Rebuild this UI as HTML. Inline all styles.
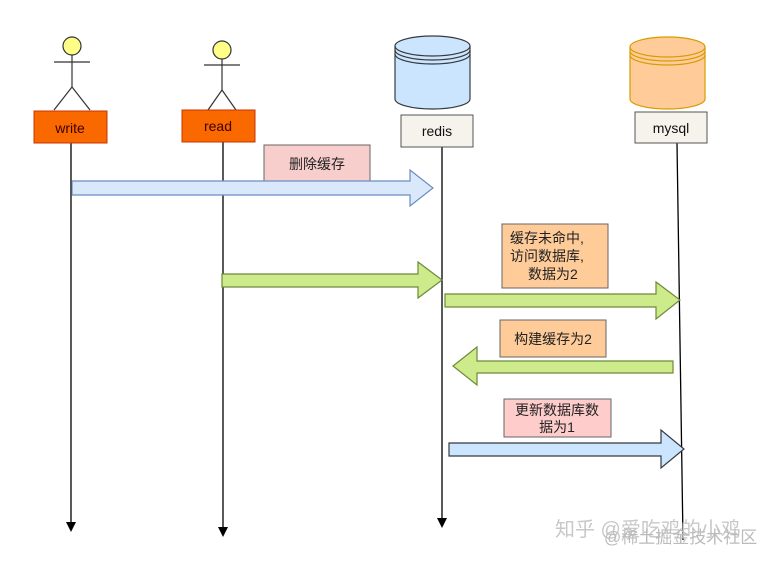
<!DOCTYPE html>
<html><head><meta charset="utf-8"><style>
html,body{margin:0;padding:0;background:#fff;}
svg{display:block;font-family:"Liberation Sans","Noto Sans CJK SC",sans-serif;}
</style></head><body>
<svg width="766" height="562" viewBox="0 0 766 562" xmlns="http://www.w3.org/2000/svg">
<rect width="766" height="562" fill="#fff"/>
<g stroke="#000" stroke-width="1.3" fill="none">
<line x1="71" y1="143" x2="71" y2="524"/>
<line x1="223" y1="142" x2="223" y2="529"/>
<line x1="442" y1="147" x2="442" y2="520"/>
<line x1="677" y1="143" x2="683" y2="540"/>
</g>
<path d="M66,522 L76,522 L71,532 z" fill="#000"/>
<path d="M218,527 L228,527 L223,537 z" fill="#000"/>
<path d="M437,518 L447,518 L442,528 z" fill="#000"/>
<g stroke="#333" stroke-width="1.2" fill="none">
<circle cx="72" cy="46" r="9" fill="#ffff88"/>
<line x1="72" y1="55" x2="72" y2="87"/><line x1="54" y1="62" x2="90" y2="62"/>
<line x1="72" y1="87" x2="54" y2="110"/><line x1="72" y1="87" x2="90" y2="110"/>
<circle cx="222" cy="50" r="9" fill="#ffff88"/>
<line x1="222" y1="59" x2="222" y2="90"/><line x1="204" y1="65" x2="240" y2="65"/>
<line x1="222" y1="90" x2="208" y2="110"/><line x1="222" y1="90" x2="236" y2="110"/>
</g>
<rect x="34" y="111" width="73" height="32" fill="#fa6800" stroke="#c73500"/>
<text x="70" y="133" font-size="14" text-anchor="middle" fill="#3a0000">write</text>
<rect x="182" y="110" width="73" height="32" fill="#fa6800" stroke="#c73500"/>
<text x="218" y="131" font-size="14" text-anchor="middle" fill="#3a0000">read</text>
<g stroke="#36393d" stroke-width="1.2">
<path d="M395,46 L395,99 A37.5,10 0 0 0 470,99 L470,46" fill="#cce5ff"/>
<ellipse cx="432.5" cy="46" rx="37.5" ry="10" fill="#cce5ff"/>
<path d="M395,50 A37.5,10 0 0 0 470,50 M395,54 A37.5,10 0 0 0 470,54" fill="none"/>
</g>
<rect x="401" y="115" width="72" height="32" fill="#f5f3eb" stroke="#555"/>
<text x="437" y="136" font-size="14" text-anchor="middle" fill="#111">redis</text>
<g stroke="#d79b00" stroke-width="1.2">
<path d="M630,47 L630,99 A37.5,10 0 0 0 705,99 L705,47" fill="#ffcc99"/>
<ellipse cx="667.5" cy="47" rx="37.5" ry="10" fill="#ffcc99"/>
<path d="M630,51 A37.5,10 0 0 0 705,51 M630,55 A37.5,10 0 0 0 705,55" fill="none"/>
</g>
<rect x="635" y="112" width="72" height="31" fill="#f5f3eb" stroke="#555"/>
<text x="671" y="133" font-size="14" text-anchor="middle" fill="#111">mysql</text>
<rect x="264" y="145" width="106" height="38" fill="#f8cecc" stroke="#666"/>
<text x="317" y="169" font-size="14" text-anchor="middle" fill="#222">删除缓存</text>
<path d="M72,181 L410,181 L410,170 L433,188 L410,206 L410,195 L72,195 z" fill="#dae8fc" stroke="#6c8ebf" stroke-width="1.2"/>
<path d="M222,274 L418,274 L418,262 L442,280 L418,298 L418,287 L222,287 z" fill="#cdeb8b" stroke="#6d8a3a" stroke-width="1.2"/>
<rect x="502" y="224" width="106" height="64" fill="#ffcc99" stroke="#666"/>
<text font-size="14" fill="#222"><tspan x="510" y="243">缓存未命中,</tspan><tspan x="510" y="261">访问数据库,</tspan><tspan x="528" y="279">数据为2</tspan></text>
<path d="M445,294 L656,294 L656,282 L680,300 L656,319 L656,307 L445,307 z" fill="#cdeb8b" stroke="#6d8a3a" stroke-width="1.2"/>
<rect x="500" y="320" width="106" height="37" fill="#ffcc99" stroke="#666"/>
<text x="553" y="344" font-size="14" text-anchor="middle" fill="#222">构建缓存为2</text>
<path d="M673,361 L477,361 L477,347 L453,366 L477,385 L477,373 L673,373 z" fill="#cdeb8b" stroke="#6d8a3a" stroke-width="1.2"/>
<rect x="504" y="399" width="107" height="38" fill="#ffcccc" stroke="#666"/>
<text font-size="14" fill="#222" text-anchor="middle"><tspan x="557" y="415">更新数据库数</tspan><tspan x="557" y="432">据为1</tspan></text>
<path d="M449,443 L661,443 L661,430 L684,449 L661,468 L661,456 L449,456 z" fill="#cce5ff" stroke="#36393d" stroke-width="1.2"/>
<text x="555" y="536" font-size="20" fill="#c8c8c8">知乎 @爱吃鸡的小鸡</text>
<text x="604" y="543" font-size="17" fill="#bbb">@稀土掘金技术社区</text>
</svg>
</body></html>
